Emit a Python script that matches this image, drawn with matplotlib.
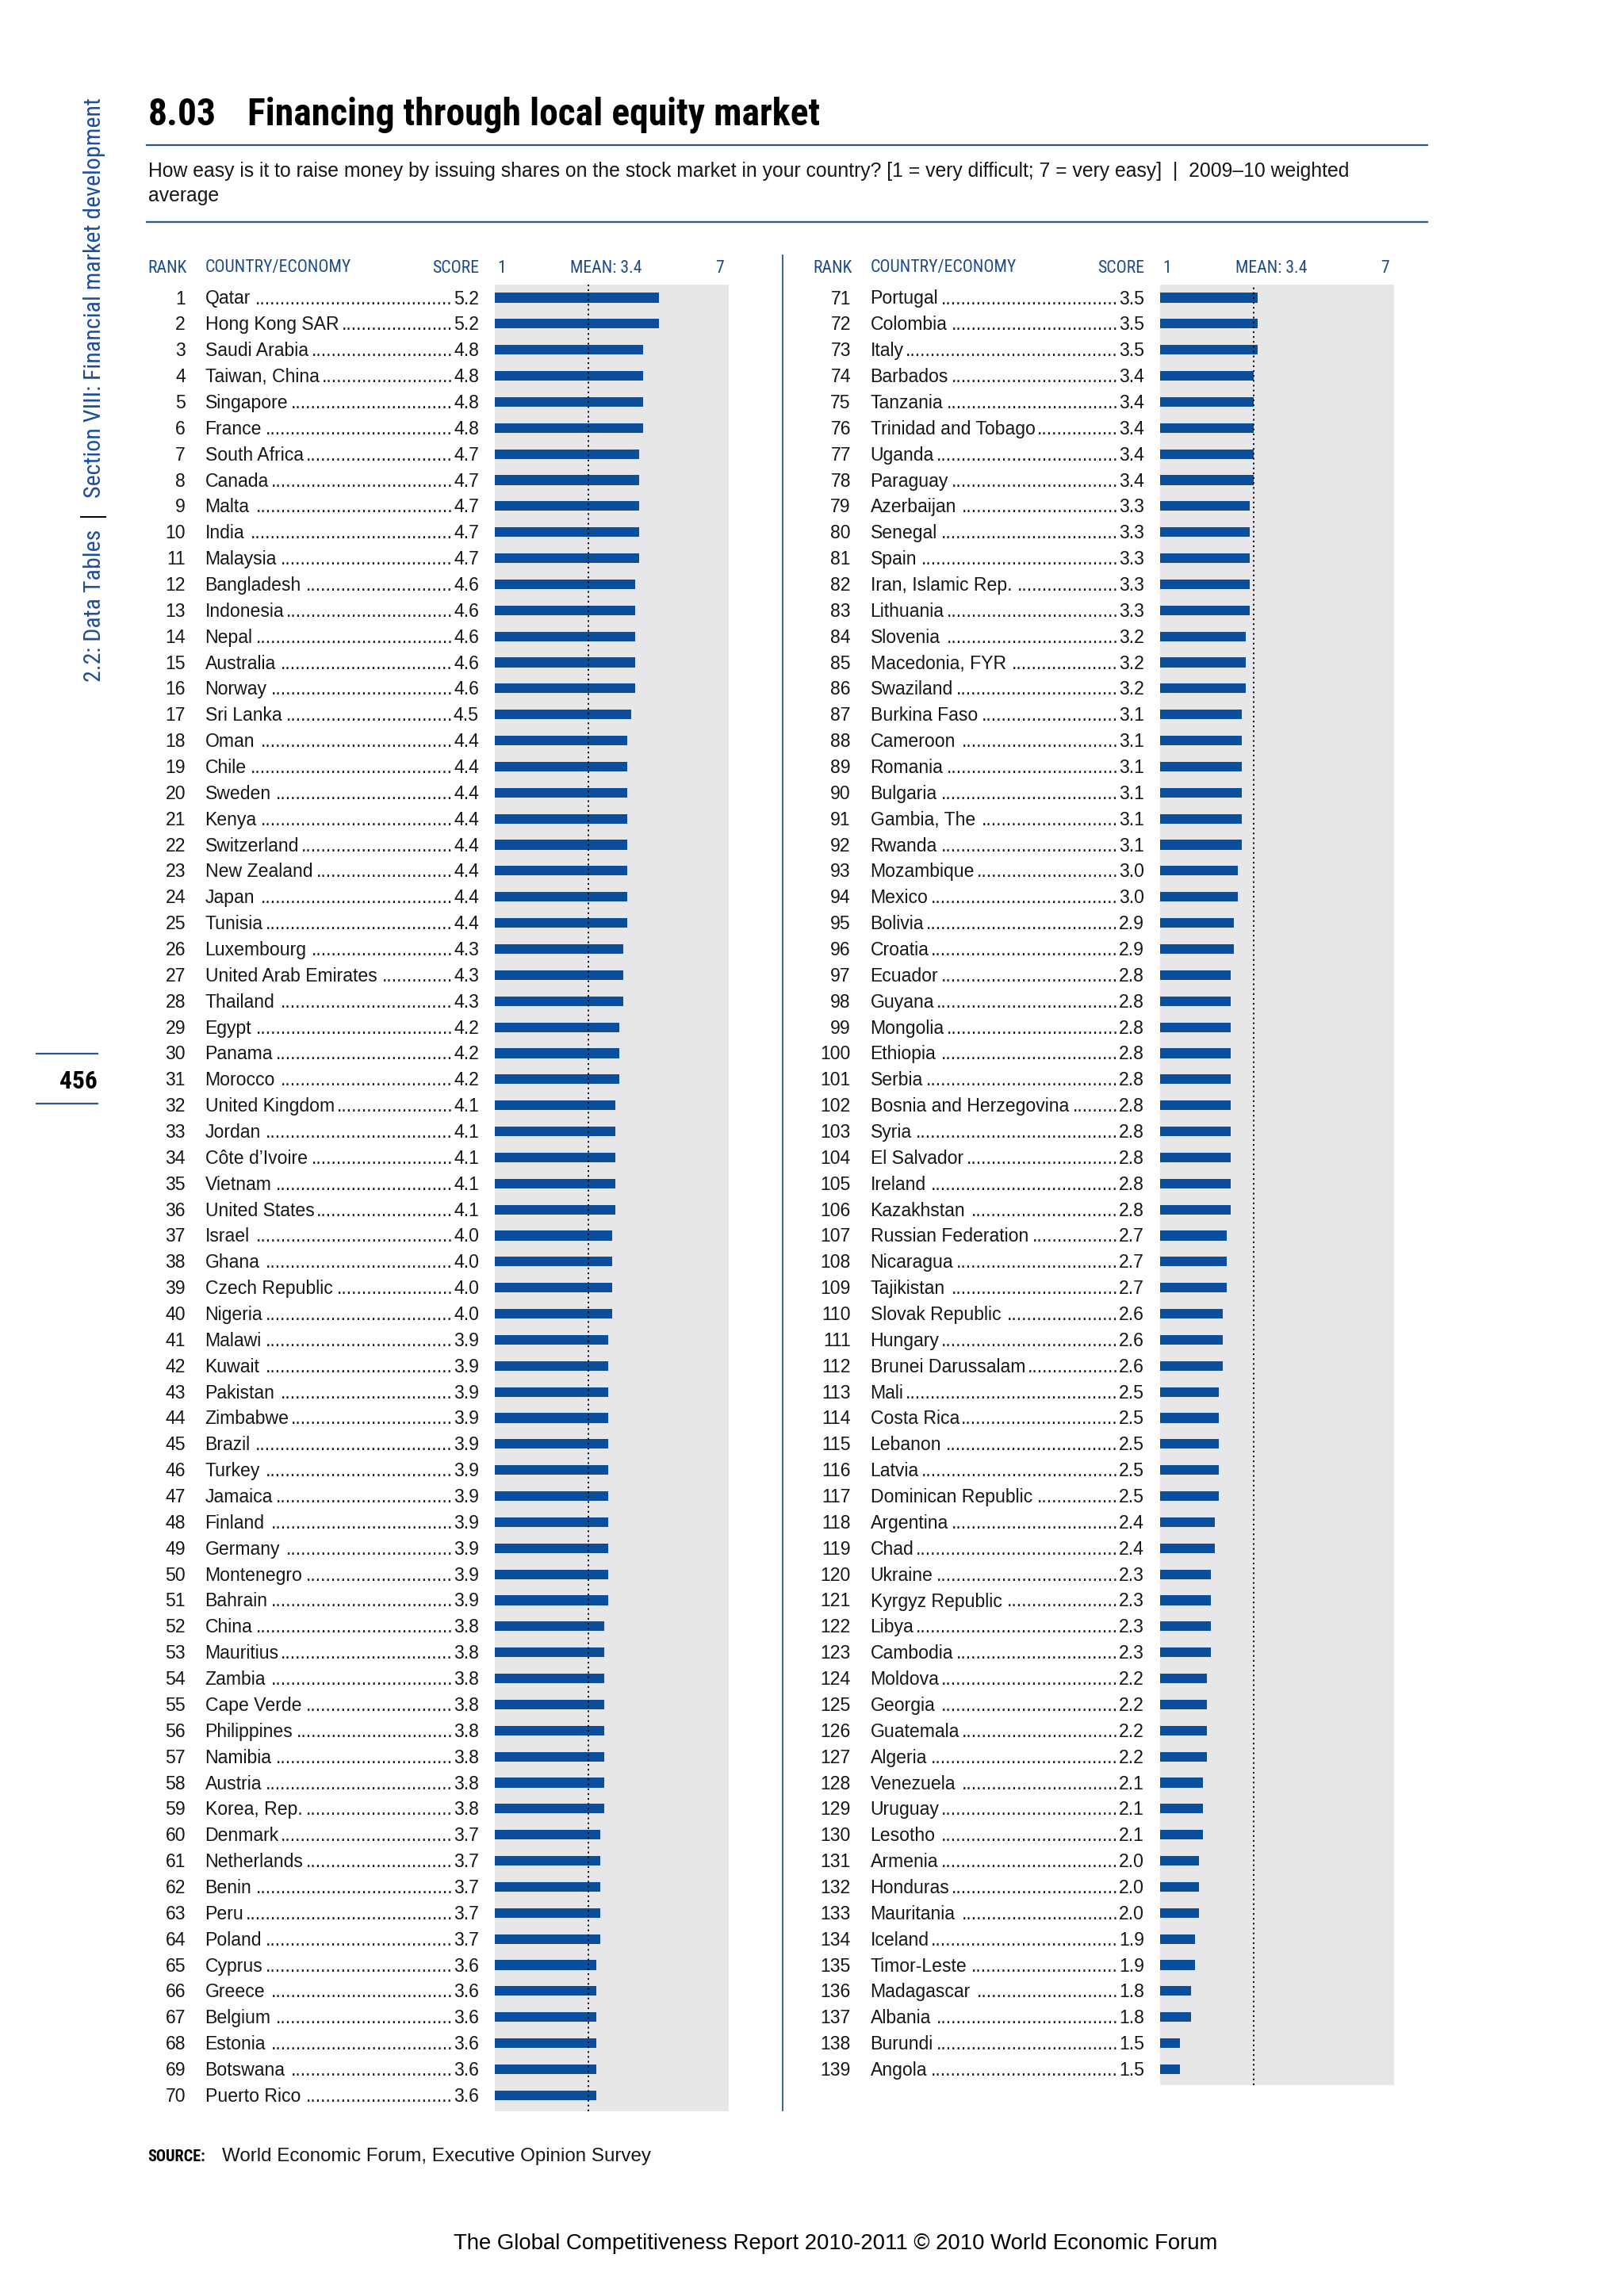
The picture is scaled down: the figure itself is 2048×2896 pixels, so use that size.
import numpy as np
import matplotlib
matplotlib.use('Agg')
import matplotlib.pyplot as plt
from matplotlib import font_manager as fm
from matplotlib.font_manager import FontProperties

# ---- data (ranks 1-70 left column, 71-139 right column) ----
ranks_left = list(range(1, 71))
countries_left = [
    'Qatar', 'Hong Kong SAR', 'Saudi Arabia', 'Taiwan, China', 'Singapore',
    'France', 'South Africa', 'Canada', 'Malta', 'India',
    'Malaysia', 'Bangladesh', 'Indonesia', 'Nepal', 'Australia',
    'Norway', 'Sri Lanka', 'Oman', 'Chile', 'Sweden',
    'Kenya', 'Switzerland', 'New Zealand', 'Japan', 'Tunisia',
    'Luxembourg', 'United Arab Emirates', 'Thailand', 'Egypt', 'Panama',
    'Morocco', 'United Kingdom', 'Jordan', 'C\u00f4te d\u2019Ivoire', 'Vietnam',
    'United States', 'Israel', 'Ghana', 'Czech Republic', 'Nigeria',
    'Malawi', 'Kuwait', 'Pakistan', 'Zimbabwe', 'Brazil',
    'Turkey', 'Jamaica', 'Finland', 'Germany', 'Montenegro',
    'Bahrain', 'China', 'Mauritius', 'Zambia', 'Cape Verde',
    'Philippines', 'Namibia', 'Austria', 'Korea, Rep.', 'Denmark',
    'Netherlands', 'Benin', 'Peru', 'Poland', 'Cyprus',
    'Greece', 'Belgium', 'Estonia', 'Botswana', 'Puerto Rico',
]
scores_left = [
    5.2, 5.2, 4.8, 4.8, 4.8, 4.8, 4.7, 4.7, 4.7, 4.7,
    4.7, 4.6, 4.6, 4.6, 4.6, 4.6, 4.5, 4.4, 4.4, 4.4,
    4.4, 4.4, 4.4, 4.4, 4.4, 4.3, 4.3, 4.3, 4.2, 4.2,
    4.2, 4.1, 4.1, 4.1, 4.1, 4.1, 4.0, 4.0, 4.0, 4.0,
    3.9, 3.9, 3.9, 3.9, 3.9, 3.9, 3.9, 3.9, 3.9, 3.9,
    3.9, 3.8, 3.8, 3.8, 3.8, 3.8, 3.8, 3.8, 3.8, 3.7,
    3.7, 3.7, 3.7, 3.7, 3.6, 3.6, 3.6, 3.6, 3.6, 3.6,
]

ranks_right = list(range(71, 140))
countries_right = [
    'Portugal', 'Colombia', 'Italy', 'Barbados', 'Tanzania',
    'Trinidad and Tobago', 'Uganda', 'Paraguay', 'Azerbaijan', 'Senegal',
    'Spain', 'Iran, Islamic Rep.', 'Lithuania', 'Slovenia', 'Macedonia, FYR',
    'Swaziland', 'Burkina Faso', 'Cameroon', 'Romania', 'Bulgaria',
    'Gambia, The', 'Rwanda', 'Mozambique', 'Mexico', 'Bolivia',
    'Croatia', 'Ecuador', 'Guyana', 'Mongolia', 'Ethiopia',
    'Serbia', 'Bosnia and Herzegovina', 'Syria', 'El Salvador', 'Ireland',
    'Kazakhstan', 'Russian Federation', 'Nicaragua', 'Tajikistan', 'Slovak Republic',
    'Hungary', 'Brunei Darussalam', 'Mali', 'Costa Rica', 'Lebanon',
    'Latvia', 'Dominican Republic', 'Argentina', 'Chad', 'Ukraine',
    'Kyrgyz Republic', 'Libya', 'Cambodia', 'Moldova', 'Georgia',
    'Guatemala', 'Algeria', 'Venezuela', 'Uruguay', 'Lesotho',
    'Armenia', 'Honduras', 'Mauritania', 'Iceland', 'Timor-Leste',
    'Madagascar', 'Albania', 'Burundi', 'Angola',
]
scores_right = [
    3.5, 3.5, 3.5, 3.4, 3.4, 3.4, 3.4, 3.4, 3.3, 3.3,
    3.3, 3.3, 3.3, 3.2, 3.2, 3.2, 3.1, 3.1, 3.1, 3.1,
    3.1, 3.1, 3.0, 3.0, 2.9, 2.9, 2.8, 2.8, 2.8, 2.8,
    2.8, 2.8, 2.8, 2.8, 2.8, 2.8, 2.7, 2.7, 2.7, 2.6,
    2.6, 2.6, 2.5, 2.5, 2.5, 2.5, 2.5, 2.4, 2.4, 2.3,
    2.3, 2.3, 2.3, 2.2, 2.2, 2.2, 2.2, 2.1, 2.1, 2.1,
    2.0, 2.0, 2.0, 1.9, 1.9, 1.8, 1.8, 1.5, 1.5,
]

MEAN = 3.4
SCALE_MIN, SCALE_MAX = 1, 7

TITLE_NO = '8.03'
TITLE = 'Financing through local equity market'
SUBTITLE = ['How easy is it to raise money by issuing shares on the stock market in your country? '
            '[1 = very difficult; 7 = very easy]  |  2009\u201310 weighted',
            'average']
SIDE_A = '2.2: Data Tables'
SIDE_B = 'Section VIII: Financial market development'
PAGE_NO = '456'
SOURCE = 'World Economic Forum, Executive Opinion Survey'
FOOTER = 'The Global Competitiveness Report 2010-2011 \u00a9 2010 World Economic Forum'

# ---- look ----
BAR = '#0b4f9c'
BG = '#e7e7e9'
HEAD = '#1d4a8b'
RULE = '#2c5592'

installed = {f.name for f in fm.fontManager.ttflist}


def pick(*names):
    for n in names:
        if n in installed:
            return n
    return 'DejaVu Sans'


SANS = pick('Liberation Sans', 'Arimo', 'DejaVu Sans')


def narrow_family():
    for n in ('Liberation Sans Narrow', 'Roboto Condensed', 'Open Sans Condensed',
              'Noto Sans Condensed', 'Arial Narrow'):
        if n in installed:
            return n, 'normal'
    for f in fm.fontManager.ttflist:
        if f.name in ('Noto Sans', 'DejaVu Sans', 'Open Sans', 'Roboto') and \
                f.stretch in ('condensed', 'semi-condensed'):
            return f.name, f.stretch
    return pick('Roboto', 'Liberation Sans'), 'normal'


NARROW, NSTRETCH = narrow_family()

W, H = 2048, 2896
fig = plt.figure(figsize=(W / 100, H / 100), dpi=100)
page = fig.add_axes([0, 0, 1, 1])
page.set_xlim(0, W)
page.set_ylim(H, 0)
page.axis('off')
renderer = fig.canvas.get_renderer()


def text_w(s, prop):
    w, h, d = renderer.get_text_width_height_descent(s, prop, ismath=False)
    return w


def fit(s, target, family, weight='normal', stretch='normal', base=20.0):
    # size a font so that the string spans about target pixels
    p = FontProperties(family=family, weight=weight, stretch=stretch, size=base)
    return FontProperties(family=family, weight=weight, stretch=stretch,
                          size=base * target / text_w(s, p))


# row layout (page pixels)
ROW0 = 375.5
STEP = 32.86
RANK_R, NAME_L, SCORE_R = 234, 258.6, 604
BAR_L, BAR_W = 624, 295
SHIFT = 839  # offset of right column

row_prop = FontProperties(family=SANS, size=16.6)
head_prop = fit('COUNTRY/ECONOMY', 184, NARROW, stretch=NSTRETCH)
dot_w = text_w('..........', row_prop) / 10.0
INK = '#161616'


def draw_column(ranks, names, scores, dx):
    # header
    hy = 343.5
    page.text(RANK_R + 2 + dx, hy, 'RANK', ha='right', va='baseline', color=HEAD, fontproperties=head_prop)
    page.text(NAME_L + dx, hy, 'COUNTRY/ECONOMY', ha='left', va='baseline', color=HEAD, fontproperties=head_prop)
    page.text(SCORE_R + dx, hy, 'SCORE', ha='right', va='baseline', color=HEAD, fontproperties=head_prop)
    page.text(BAR_L + 3 + dx, hy, str(SCALE_MIN), ha='left', va='baseline', color=HEAD, fontproperties=head_prop)
    page.text(BAR_L + 95 + dx, hy, 'MEAN: %.1f' % MEAN, ha='left', va='baseline', color=HEAD, fontproperties=head_prop)
    page.text(BAR_L + BAR_W - 6 + dx, hy, str(SCALE_MAX), ha='right', va='baseline', color=HEAD, fontproperties=head_prop)

    # rows: rank, name, dot leader, score
    for i, (r, n, s) in enumerate(zip(ranks, names, scores)):
        yb = ROW0 + i * STEP + 8.0
        sc = '%.1f' % s
        sw = text_w(sc, row_prop)
        page.text(RANK_R + dx, yb, str(r), ha='right', va='baseline', color=INK, fontproperties=row_prop)
        page.text(NAME_L + dx, yb, n, ha='left', va='baseline', color=INK, fontproperties=row_prop)
        page.text(SCORE_R + dx, yb, sc, ha='right', va='baseline', color=INK, fontproperties=row_prop)
        gap = (SCORE_R - sw) - (NAME_L + text_w(n, row_prop)) - 3
        nd = max(int(gap // dot_w), 0)
        page.text(SCORE_R - sw - 1 + dx, yb, '.' * nd, ha='right', va='baseline',
                  color=INK, fontproperties=row_prop)

    # bars
    cnt = len(scores)
    top = ROW0 - 0.5 * STEP
    height = (cnt - 1 + 0.5 + 0.6) * STEP
    ax = fig.add_axes([(BAR_L + dx) / W, 1 - (top + height) / H, BAR_W / W, height / H])
    y = np.arange(cnt)
    ax.barh(y, np.array(scores) - SCALE_MIN, left=SCALE_MIN, height=0.37, color=BAR)
    ax.set_xlim(SCALE_MIN, SCALE_MAX)
    ax.set_ylim(cnt - 1 + 0.6, -0.5)
    ax.set_facecolor(BG)
    ax.axvline(MEAN, color='black', lw=1.3, ls=(0, (1.2, 2.2)))
    for sp in ax.spines.values():
        sp.set_visible(False)
    ax.set_xticks([])
    ax.set_yticks([])


draw_column(ranks_left, countries_left, scores_left, 0)
draw_column(ranks_right, countries_right, scores_right, SHIFT)

# divider between the two columns
page.plot([987, 987], [322, 2662], color=RULE, lw=1.3)

# title block
title_prop = fit(TITLE, 720, NARROW, weight='bold', stretch=NSTRETCH)
page.text(186.7, 158, TITLE_NO, ha='left', va='baseline', color='black', fontproperties=title_prop)
page.text(311.7, 158, TITLE, ha='left', va='baseline', color='black', fontproperties=title_prop)
page.plot([184.7, 1800], [183.3, 183.3], color=RULE, lw=1.6)
sub_prop = fit(SUBTITLE[0], 1517, SANS)
page.text(186.7, 222.7, SUBTITLE[0], ha='left', va='baseline', color=INK, fontproperties=sub_prop)
page.text(186.7, 254, SUBTITLE[1], ha='left', va='baseline', color=INK, fontproperties=sub_prop)
page.plot([184.7, 1800], [280, 280], color=RULE, lw=1.6)

# side running head
side_prop = fit(SIDE_B, 504, NARROW, stretch=NSTRETCH)
page.text(126.7, 123, SIDE_B, rotation=90, rotation_mode='anchor', ha='right', va='baseline',
          color='#1f4e9a', fontproperties=side_prop)
page.text(126.7, 860, SIDE_A, rotation=90, rotation_mode='anchor', ha='left', va='baseline',
          color='#1f4e9a', fontproperties=side_prop)
page.plot([102, 133], [652, 652], color='black', lw=1.4)

# page number
page.plot([46, 123], [1329, 1329], color=RULE, lw=1.6)
page.plot([46, 123], [1392, 1392], color=RULE, lw=1.6)
page.text(75, 1373, PAGE_NO, ha='left', va='baseline', color='black',
          fontproperties=fit(PAGE_NO, 48, NARROW, weight='bold', stretch=NSTRETCH))

# source and footer
page.text(186.7, 2726, 'SOURCE:', ha='left', va='baseline', color='black',
          fontproperties=fit('SOURCE:', 73, NARROW, weight='bold', stretch=NSTRETCH))
page.text(280, 2726, SOURCE, ha='left', va='baseline', color=INK,
          fontproperties=fit(SOURCE, 542, SANS))
page.text(1054, 2836.7, FOOTER, ha='center', va='baseline', color='black',
          fontproperties=fit(FOOTER, 964, SANS))

fig.savefig('out.png', dpi=100, facecolor='white')
